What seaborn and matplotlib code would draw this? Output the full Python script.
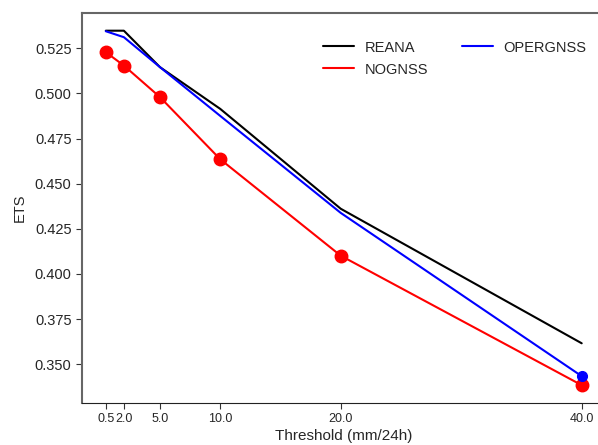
import matplotlib
matplotlib.use("Agg")
import matplotlib.pyplot as plt
import seaborn as sns
import pandas as pd

thresholds = [0.5, 2.0, 5.0, 10.0, 20.0, 40.0]
reana = [0.5347, 0.5347, 0.5145, 0.4914, 0.4361, 0.3616]
opergnss = [0.5344, 0.5311, 0.5145, 0.4875, 0.4338, 0.3434]
nognss = [0.5228, 0.5154, 0.4979, 0.4635, 0.4101, 0.3384]
tick_labels = ["0.5", "2.0", "5.0", "10.0", "20.0", "40.0"]

sns.set_style("ticks")
plt.rcParams['font.family'] = ['Liberation Sans', 'DejaVu Sans']

fig = plt.figure(figsize=(5.98, 4.45), dpi=100)
ax = fig.add_axes([82/598, (445-402.7)/445, (605.5-82)/598, (402.7-13)/445])

df = pd.DataFrame({"x": thresholds, "REANA": reana, "OPERGNSS": opergnss, "NOGNSS": nognss})

sns.lineplot(data=df, x="x", y="REANA", ax=ax, color="black", lw=1.5, label="REANA")
sns.lineplot(data=df, x="x", y="NOGNSS", ax=ax, color="red", lw=1.5, label="NOGNSS")
sns.lineplot(data=df, x="x", y="OPERGNSS", ax=ax, color="blue", lw=1.5, label="OPERGNSS")
ax.plot(df["x"], df["NOGNSS"], "o", color="red", ms=9, zorder=5)
ax.plot(df["x"].iloc[-1:], df["OPERGNSS"].iloc[-1:], "o", color="blue", ms=7, zorder=6)

ax.set_xlim(-1.475, 41.975)
ax.set_ylim(0.3287, 0.5445)
ax.set_xticks(thresholds)
ax.set_xticklabels(tick_labels, fontsize=9)
ax.set_yticks([0.350, 0.375, 0.400, 0.425, 0.450, 0.475, 0.500, 0.525])
ax.set_yticklabels(["0.350", "0.375", "0.400", "0.425", "0.450", "0.475", "0.500", "0.525"], fontsize=10.5)
ax.set_xlabel("Threshold (mm/24h)", fontsize=11, labelpad=3)
ax.set_ylabel("ETS", fontsize=10.5, labelpad=6)

for s in ["left", "top"]:
    ax.spines[s].set_color("#666666")
    ax.spines[s].set_linewidth(1.5)
ax.spines["bottom"].set_color("#222222")
ax.spines["right"].set_visible(False)
ax.tick_params(axis="both", length=4, color="#333333")

ax.legend(ncol=2, frameon=False, fontsize=10.5, loc="upper left",
          bbox_to_anchor=(0.436, 0.963), handlelength=2.1, handletextpad=0.75,
          columnspacing=2.3, labelspacing=0.55)

fig.savefig("out.png", dpi=100)
